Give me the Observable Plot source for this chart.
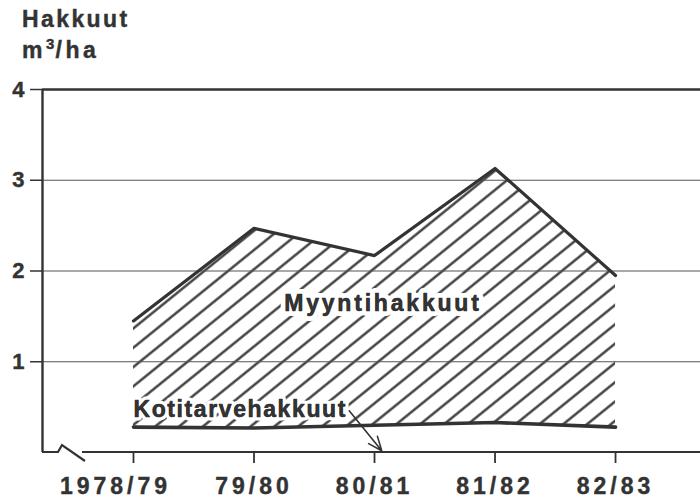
<!DOCTYPE html>
<html>
<head>
<meta charset="utf-8">
<script src="https://cdn.jsdelivr.net/npm/d3@7"></script>
<script src="https://cdn.jsdelivr.net/npm/@observablehq/plot@0.6"></script>
<style>
  html, body { margin: 0; padding: 0; background: #fff; }
  #hdr { height: 60px; box-sizing: border-box; padding: 4px 0 0 22px;
         font: bold 23px "Liberation Sans", Arial, sans-serif; letter-spacing: 2.4px;
         line-height: 31px; color: #333; -webkit-text-stroke: 0.4px #333; }
  #hdr .l2 { letter-spacing: 3.6px; }
  #hdr sup { font-size: 15px; line-height: 0; vertical-align: 9px; letter-spacing: 1px; }
  g[aria-label="x-axis tick label"] text { letter-spacing: 4px; stroke: #333; stroke-width: 0.4px; }
  g[aria-label="y-axis tick label"] text { letter-spacing: 0; stroke: #333; stroke-width: 0.4px; }
</style>
</head>
<body>
<svg width="0" height="0" style="position:absolute">
  <defs>
    <pattern id="hatch" patternUnits="userSpaceOnUse" width="15" height="15" patternTransform="rotate(51)">
      <line x1="7.5" y1="-1" x2="7.5" y2="16" stroke="#333" stroke-width="2.3"/>
    </pattern>
  </defs>
</svg>
<div id="hdr">Hakkuut<br><span class="l2">m<sup>3</sup>/ha</span></div>
<div id="chart"></div>
<script>
const categories = ["1978/79", "79/80", "80/81", "81/82", "82/83"];
const totalCut = [1.45, 2.47, 2.17, 3.13, 1.95];   // Myyntihakkuut + Kotitarvehakkuut (upper line)
const homeUse = [0.28, 0.27, 0.30, 0.33, 0.28];    // Kotitarvehakkuut (lower line)
const yTicks = [1, 2, 3, 4];
const labelNames = ["Myyntihakkuut", "Kotitarvehakkuut"];

const data = categories.map((c, i) => ({i, c, total: totalCut[i], home: homeUse[i]}));
const idx = data.map(d => d.i);
const xDomain = [-0.755, 4.705];
const ink = "#333";

function bottomAxisWithBreak(index, scales, values, dims) {
  const y0 = scales.y(0);
  const l = dims.marginLeft, r = dims.width - dims.marginRight;
  const p = d3.create("svg:path")
    .attr("fill", "none").attr("stroke", ink).attr("stroke-width", 2.2)
    .attr("stroke-linejoin", "miter")
    .attr("d", `M${l},${y0}H${l + 16}L${l + 20},${y0 - 7}L${l + 43},${y0 + 9}M${l + 40},${y0}H${r}`);
  return p.node();
}

const labelFont = {fontSize: 23, fill: ink};
const catFormat = i => categories[i];

const chart = Plot.plot({
  width: 700,
  height: 441,
  marginLeft: 42,
  marginRight: 0,
  marginTop: 29,
  marginBottom: 49,
  style: {background: "white", color: ink, fontFamily: "'Liberation Sans', Arial, sans-serif",
          fontWeight: "bold", fontSize: "22px", overflow: "visible"},
  x: {type: "linear", domain: xDomain, axis: null, label: null},
  y: {domain: [0, 4], axis: null, label: null},
  marks: [
    Plot.areaY(data, {x: "i", y1: "home", y2: "total", fill: "url(#hatch)"}),
    Plot.ruleY(yTicks.filter(d => d < 4), {stroke: "#555", strokeWidth: 1.1}),
    Plot.ruleY([4], {stroke: ink, strokeWidth: 2.6}),
    Plot.ruleX([xDomain[0]], {y1: 0, y2: 4, stroke: ink, strokeWidth: 2.4}),
    Plot.axisY(yTicks, {anchor: "left", tickSize: 12, tickPadding: 6, strokeWidth: 1.5,
                        tickFormat: d => String(d), label: null, fontSize: 22}),
    // tick marks
    Plot.axisX(idx, {anchor: "bottom", tickSize: 11, strokeWidth: 1.8, tickFormat: () => "", label: null}),
    // tick labels
    Plot.axisX(idx.slice(1), {anchor: "bottom", tickSize: 0, tickPadding: 25,
                              tickFormat: catFormat, label: null, fontSize: 23}),
    Plot.axisX(idx.slice(0, 1), {anchor: "bottom", tickSize: 0, tickPadding: 25, dx: -18,
                                 tickFormat: catFormat, label: null, fontSize: 23}),
    bottomAxisWithBreak,
    Plot.lineY(data, {x: "i", y: "total", stroke: ink, strokeWidth: 3.2}),
    Plot.lineY(data, {x: "i", y: "home", stroke: ink, strokeWidth: 3.6}),
    Plot.text([labelNames[0]], {x: 2.07, y: 1.64, text: d => d, ...labelFont,
                                stroke: "white", strokeWidth: 10, textAnchor: "middle"}),
    Plot.text([labelNames[0]], {x: 2.07, y: 1.64, text: d => d, ...labelFont,
                                stroke: ink, strokeWidth: 0.4, textAnchor: "middle"}),
    Plot.text([labelNames[1]], {x: 0, y: 0.47, text: d => d, ...labelFont,
                                stroke: "white", strokeWidth: 7, textAnchor: "start"}),
    Plot.text([labelNames[1]], {x: 0, y: 0.47, text: d => d, ...labelFont,
                                stroke: ink, strokeWidth: 0.4, textAnchor: "start"}),
    Plot.arrow([0], {x1: 1.79, y1: 0.46, x2: 2.06, y2: 0.02, stroke: ink, strokeWidth: 1.6,
                     headLength: 14, headAngle: 45})
  ]
});
// per-label letter spacing, as in the reference lettering
d3.select(chart).selectAll("text").each(function() {
  const t = this.textContent;
  if (t === labelNames[0]) this.style.letterSpacing = "2.8px";
  if (t === labelNames[1]) this.style.letterSpacing = "1.6px";
});
document.getElementById("chart").appendChild(chart);
</script>
</body>
</html>
